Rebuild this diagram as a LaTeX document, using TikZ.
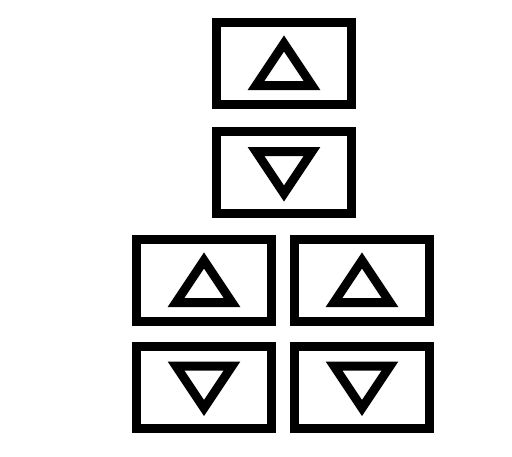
\documentclass[tikz,border=0pt]{standalone}
\usepackage{tikz}
\usetikzlibrary{calc}

\tikzset{
    panel/.style={draw, line width=9pt, minimum width=135pt, minimum height=82pt, inner sep=0pt},
    tri/.style={line width=9pt, line join=miter}
}

\begin{document}
\begin{tikzpicture}[x=1pt, y=-1pt]
    \useasboundingbox (0,0) rectangle (512,456);

    % 1. Các khung (pixel coordinates, y downwards)
    \node[panel] (b1) at (284,63.5) {};
    \node[panel] (b2) at (284,172.5) {};
    \node[panel] (b3) at (204,280.5) {};
    \node[panel] (b4) at (362,280.5) {};
    \node[panel] (b5) at (204,387) {};
    \node[panel] (b6) at (362,387) {};

    % 2. Tam giác hướng lên
    \foreach \b in {b1, b3, b4}
        \draw[tri, shift={(\b.center)}] (0,-20) -- (28,22) -- (-28,22) -- cycle;

    % 3. Tam giác hướng xuống
    \foreach \b in {b2, b5, b6}
        \draw[tri, shift={(\b.center)}] (-28,-21) -- (28,-21) -- (0,21) -- cycle;

\end{tikzpicture}
\end{document}
